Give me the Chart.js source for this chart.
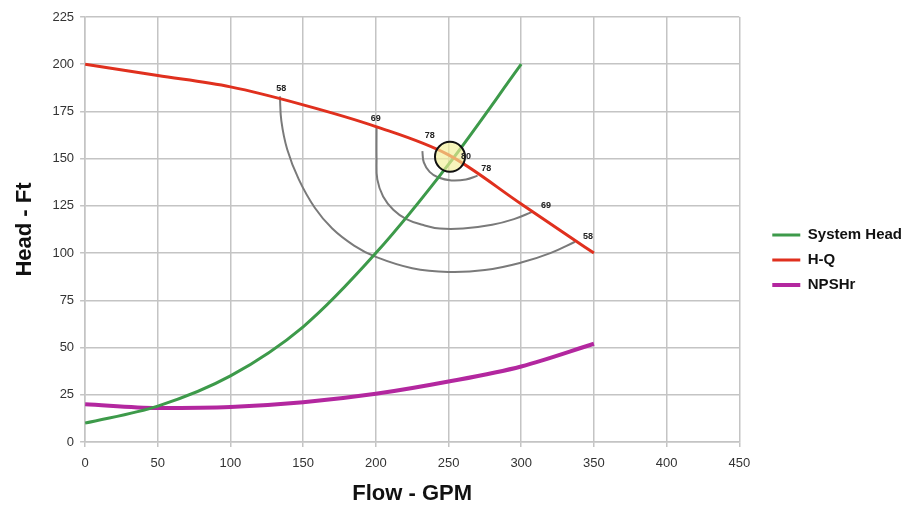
<!DOCTYPE html>
<html lang="en">
<head>
    <meta charset="UTF-8">
    <title>Pump Curve</title>
    <script src="https://cdn.jsdelivr.net/npm/chart.js"></script>
    <style>
        html, body { margin: 0; padding: 0; background: #fff; }
        .chart-container { width: 901px; height: 506px; }
    </style>
</head>
<body>
    <div class="chart-container">
        <canvas id="pumpChart"></canvas>
    </div>

    <script>
        // Datos principales
        const flowMain = [0, 50, 100, 150, 200, 250, 300, 350];
        const hqHead = [200, 194, 188, 178.5, 167, 152, 126, 100];
        const npshHead = [20, 18, 18.5, 21, 25.5, 32, 40, 52];
        const sysFlow = [0, 50, 100, 150, 200, 250, 300];
        const sysHead = [10, 19, 35, 61, 100, 147, 200];

        // Curvas de eficiencia
        const eff58Flow = [134, 135, 139, 147, 158, 170, 185, 200, 225, 250, 275, 300, 320, 337];
        const eff58Head = [183, 170, 155, 139, 124, 113, 104, 98, 92, 90, 91, 95, 100, 106];
        const eff69Flow = [200.5, 200.5, 201, 205, 212, 221, 232, 244, 260, 280, 295, 308];
        const eff69Head = [167, 150, 139, 130, 123, 118, 115, 113, 113, 115, 118, 122];
        const eff78Flow = [232, 233, 237, 243, 252, 262, 270];
        const eff78Head = [154, 148, 143, 140, 138.5, 139, 141];

        // Punto de operación
        const bepFlow = [251];
        const bepHead = [151];

        // Etiquetas de eficiencia
        const effText = ['58', '69', '78', '80', '78', '69', '58'];
        const effLabelFlow = [135, 200, 237, 262, 276, 317, 346];
        const effLabelHead = [187, 171, 162, 151, 145, 125, 109];

        const xTicks = [0, 50, 100, 150, 200, 250, 300, 350, 400, 450];
        const yTicks = [0, 25, 50, 75, 100, 125, 150, 175, 200, 225];
        const legendNames = ['System Head', 'H-Q', 'NPSHr'];

        const fontFamily = "'Liberation Sans', Arial, sans-serif";

        function toPoints(xs, ys) {
            return xs.map((x, i) => ({ x: x, y: ys[i] }));
        }

        function contour(data) {
            return {
                label: 'eff', data: data, showLine: true, borderColor: '#7a7a7a',
                borderWidth: 2, pointRadius: 0, tension: 0.4, fill: false, order: 5
            };
        }

        // Plugin para dibujar las etiquetas de eficiencia
        const effLabels = {
            id: 'effLabels',
            afterDatasetsDraw(chart) {
                const ctx = chart.ctx;
                const xs = chart.scales.x, ys = chart.scales.y;
                ctx.save();
                ctx.font = 'bold 9px ' + fontFamily;
                ctx.fillStyle = '#222';
                ctx.textAlign = 'center';
                ctx.textBaseline = 'middle';
                for (let i = 0; i < effText.length; i++) {
                    ctx.fillText(effText[i], xs.getPixelForValue(effLabelFlow[i]), ys.getPixelForValue(effLabelHead[i]));
                }
                ctx.restore();
            }
        };

        const ctx = document.getElementById('pumpChart').getContext('2d');
        const chart = new Chart(ctx, {
            type: 'scatter',
            data: {
                datasets: [
                    { label: 'System Head', data: toPoints(sysFlow, sysHead), showLine: true, borderColor: '#3d9a4a', backgroundColor: '#3d9a4a', borderWidth: 3, pointRadius: 0, cubicInterpolationMode: 'monotone', order: 2 },
                    { label: 'H-Q', data: toPoints(flowMain, hqHead), showLine: true, borderColor: '#e0301e', backgroundColor: '#e0301e', borderWidth: 3, pointRadius: 0, cubicInterpolationMode: 'monotone', order: 1 },
                    { label: 'NPSHr', data: toPoints(flowMain, npshHead), showLine: true, borderColor: '#b3279f', backgroundColor: '#b3279f', borderWidth: 4, pointRadius: 0, cubicInterpolationMode: 'monotone', order: 3 },
                    contour(toPoints(eff58Flow, eff58Head)),
                    contour(toPoints(eff69Flow, eff69Head)),
                    contour(toPoints(eff78Flow, eff78Head)),
                    { label: 'bep', data: toPoints(bepFlow, bepHead), pointRadius: 15, pointHoverRadius: 15, backgroundColor: 'rgba(242, 240, 150, 0.65)', borderColor: '#111', borderWidth: 2, order: 0 }
                ]
            },
            options: {
                responsive: true,
                maintainAspectRatio: false,
                animation: { duration: 0 },
                layout: { padding: { left: 8, top: 13, right: -11, bottom: -1 } },
                plugins: {
                    tooltip: { enabled: false },
                    legend: {
                        position: 'right',
                        labels: {
                            filter: (item) => legendNames.includes(item.text),
                            sort: (a, b) => a.datasetIndex - b.datasetIndex,
                            usePointStyle: true,
                            pointStyle: 'line',
                            pointStyleWidth: 28,
                            color: '#111',
                            padding: 10,
                            font: { family: fontFamily, size: 15, weight: 'bold' }
                        }
                    }
                },
                scales: {
                    x: {
                        type: 'linear',
                        min: 0, max: 450,
                        afterBuildTicks: (axis) => { axis.ticks = xTicks.map(v => ({ value: v })); },
                        grid: { color: '#c4c4c4', lineWidth: 1.5, tickLength: 5 },
                        border: { color: '#c4c4c4', width: 1.5 },
                        ticks: { color: '#333', font: { family: fontFamily, size: 13 }, padding: 9 },
                        title: { display: true, text: 'Flow - GPM', color: '#111', font: { family: fontFamily, size: 22, weight: 'bold' }, padding: 0 }
                    },
                    y: {
                        min: 0, max: 225,
                        afterBuildTicks: (axis) => { axis.ticks = yTicks.map(v => ({ value: v })); },
                        grid: { color: '#c4c4c4', lineWidth: 1.5, tickLength: 5 },
                        border: { color: '#c4c4c4', width: 1.5 },
                        ticks: { color: '#333', font: { family: fontFamily, size: 13 }, padding: 6 },
                        title: { display: true, text: 'Head - Ft', color: '#111', font: { family: fontFamily, size: 22, weight: 'bold' }, padding: { top: 4, bottom: 8 } }
                    },
                    // hueco entre el área y la leyenda
                    gap: {
                        type: 'linear',
                        position: 'right',
                        grid: { display: false },
                        border: { display: false },
                        ticks: { display: false },
                        afterFit: (scale) => { scale.width = 23; }
                    }
                }
            },
            plugins: [effLabels]
        });
    </script>
</body>
</html>
